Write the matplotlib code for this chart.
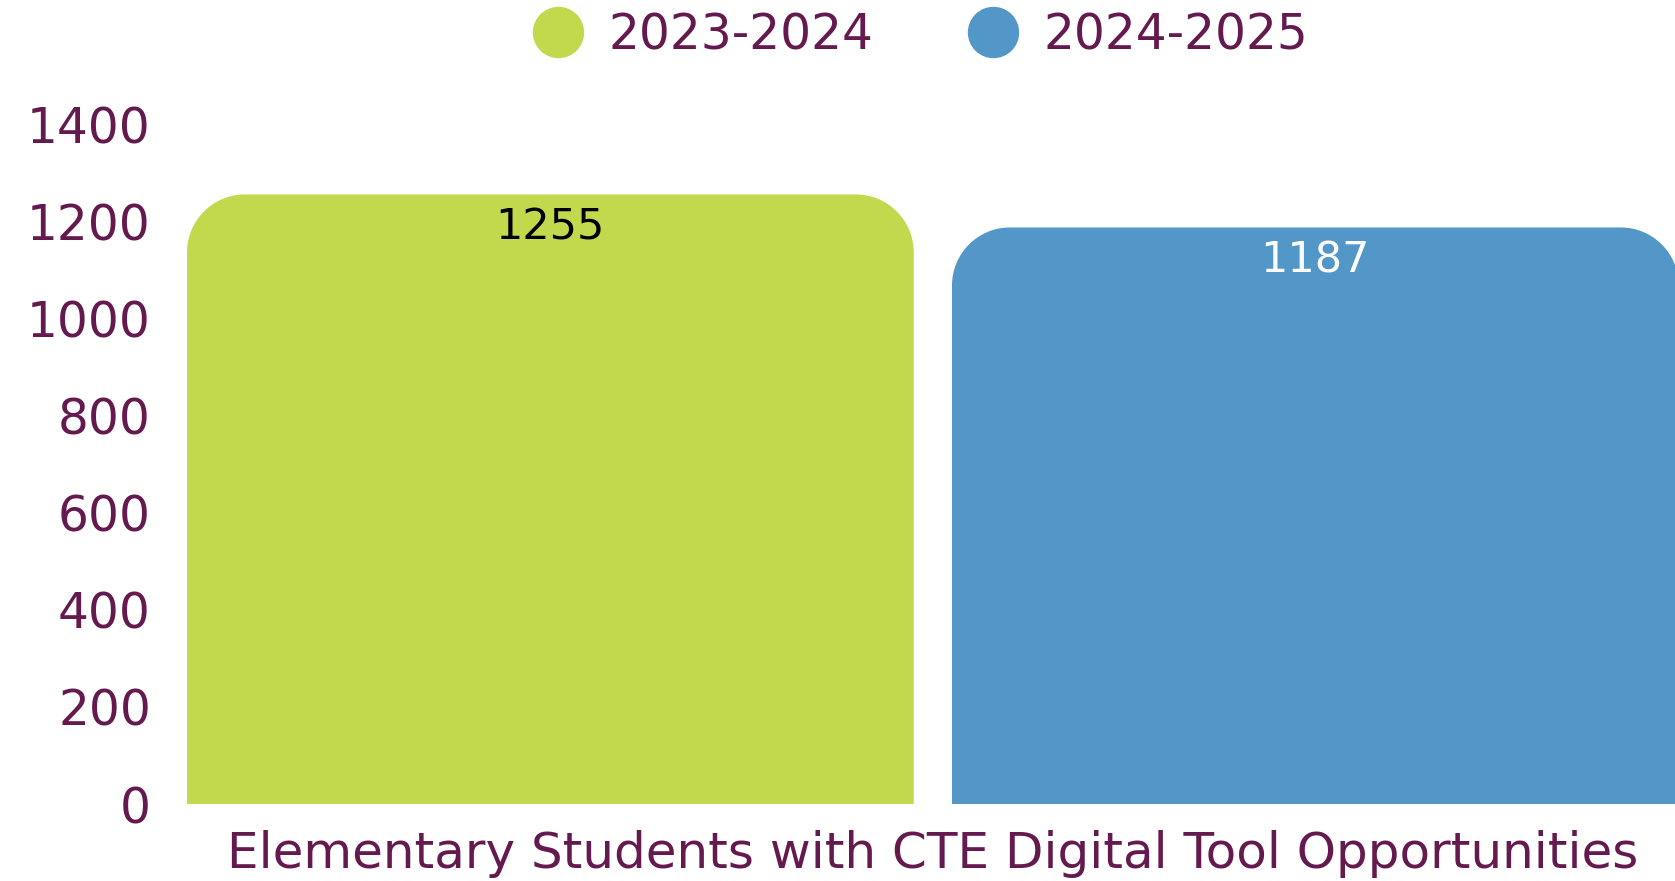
import matplotlib
matplotlib.use("Agg")
import matplotlib.pyplot as plt
import matplotlib.path as mpath
import matplotlib.patches as mpatches
from matplotlib.lines import Line2D

# --------------------------
# Data
# --------------------------
category = "Elementary Students with CTE Digital Tool Opportunities"
series_names = ["2023-2024", "2024-2025"]
series_values = [1255, 1187]
series_colors = ["#C2D94E", "#5397C8"]
label_colors = ["#000000", "#FFFFFF"]
y_ticks = [0, 200, 400, 600, 800, 1000, 1200, 1400]

purple = "#651A4F"
plt.rcParams["font.family"] = ["DejaVu Sans"]

W, H, DPI = 1675, 881, 100
fig = plt.figure(figsize=(W / DPI, H / DPI), dpi=DPI)

# axes placed in pixel terms
left_px, right_px = 187, 1675
bottom_px, top_px = 804, 124
ax = fig.add_axes([left_px / W, (H - bottom_px) / H,
                   (right_px - left_px) / W, (bottom_px - top_px) / H])

bar_w = 0.95
x_pos = [0, 1]
ax.set_xlim(-bar_w / 2, -bar_w / 2 + (right_px - left_px) / 765)
ax.set_ylim(0, 1400)

bars = ax.bar(x_pos, series_values, width=bar_w, color=series_colors)

# swap each rectangle for one with rounded top corners
px_x = 765.0            # pixels per x unit
px_y = 680.0 / 1400     # pixels per y unit
r_px = 58
rx, ry = r_px / px_x, r_px / px_y
k = 0.5523
for rect, col in zip(bars.patches, series_colors):
    x0, y0 = rect.get_x(), rect.get_y()
    x1, y1 = x0 + rect.get_width(), y0 + rect.get_height()
    verts = [
        (x0, y0), (x0, y1 - ry),
        (x0, y1 - ry + k * ry), (x0 + rx - k * rx, y1), (x0 + rx, y1),
        (x1 - rx, y1),
        (x1 - rx + k * rx, y1), (x1, y1 - ry + k * ry), (x1, y1 - ry),
        (x1, y0), (x0, y0),
    ]
    codes = [mpath.Path.MOVETO, mpath.Path.LINETO,
             mpath.Path.CURVE4, mpath.Path.CURVE4, mpath.Path.CURVE4,
             mpath.Path.LINETO,
             mpath.Path.CURVE4, mpath.Path.CURVE4, mpath.Path.CURVE4,
             mpath.Path.LINETO, mpath.Path.CLOSEPOLY]
    rect.set_visible(False)
    ax.add_patch(mpatches.PathPatch(mpath.Path(verts, codes), facecolor=col,
                                    edgecolor="none", clip_on=False))

# value labels inside bar tops
for xp, v, lc in zip(x_pos, series_values, label_colors):
    ax.annotate(str(v), xy=(xp, v), xytext=(0, -24), textcoords="offset points",
                ha="center", va="center", fontsize=31, color=lc)

ax.set_yticks(y_ticks)
ax.set_yticklabels([str(t) for t in y_ticks], fontsize=35, color=purple)
ax.set_xticks([0.5])
ax.set_xticklabels([category], fontsize=36, color=purple)
ax.tick_params(axis="y", length=0, pad=26)
ax.tick_params(axis="x", length=0, pad=19)
for s in ax.spines.values():
    s.set_visible(False)

handles = [Line2D([], [], marker="o", linestyle="none", markersize=37,
                  markerfacecolor=c, markeredgecolor="none") for c in series_colors]
leg = fig.legend(handles, series_names, loc="center", bbox_to_anchor=(0.549, 0.960),
                 ncol=2, frameon=False, fontsize=35, handlelength=1.1,
                 handletextpad=0.5, columnspacing=1.9, labelcolor=purple)

fig.savefig("out.png", dpi=DPI)
